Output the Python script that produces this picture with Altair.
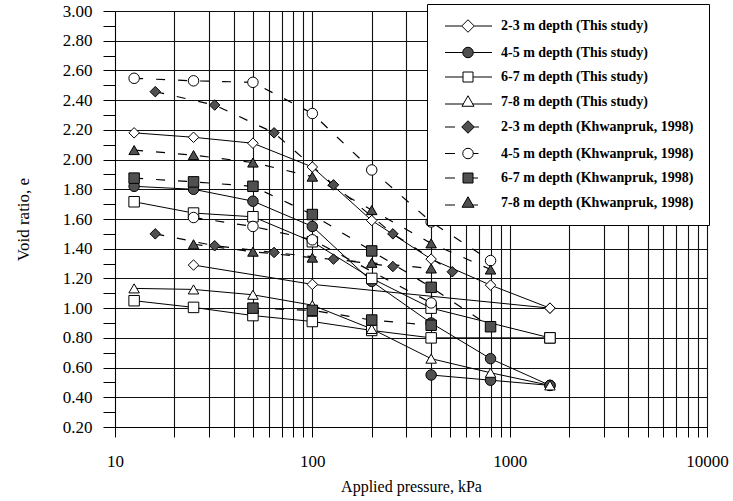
import altair as alt
import pandas as pd

labels = [
    "2-3 m depth (This study)",
    "4-5 m depth (This study)",
    "6-7 m depth (This study)",
    "7-8 m depth (This study)",
    "2-3 m depth (Khwanpruk, 1998)",
    "4-5 m depth (Khwanpruk, 1998)",
    "6-7 m depth (Khwanpruk, 1998)",
    "7-8 m depth (Khwanpruk, 1998)",
]

# ---- This study (applied pressure kPa, void ratio) ----
t23a_p = [12.5, 25, 50, 100, 200, 400, 800, 1600]
t23a_e = [2.18, 2.15, 2.11, 1.95, 1.59, 1.33, 1.155, 1.00]
t23b_p = [25, 100, 1600]
t23b_e = [1.29, 1.16, 1.00]

t45a_p = [12.5, 25, 50, 100, 200, 400, 800, 1600]
t45a_e = [1.82, 1.80, 1.72, 1.55, 1.18, 0.90, 0.66, 0.48]
t45b_p = [400, 800, 1600]
t45b_e = [0.55, 0.515, 0.48]

t67a_p = [12.5, 25, 50, 100, 200, 400, 1600]
t67a_e = [1.716, 1.64, 1.615, 1.447, 1.20, 1.00, 0.80]
t67b_p = [12.5, 25, 50, 100, 200, 400, 1600]
t67b_e = [1.05, 1.005, 0.95, 0.91, 0.85, 0.80, 0.80]

t78a_p = [12.5, 25, 50, 100, 200, 400, 800, 1600]
t78a_e = [1.133, 1.126, 1.09, 1.02, 0.86, 0.66, 0.565, 0.48]

# ---- Khwanpruk, 1998 ----
k23a_p = [16, 32, 64, 128, 256, 512]
k23a_e = [2.457, 2.367, 2.18, 1.83, 1.50, 1.245]
k23b_p = [16, 32, 64, 128, 256]
k23b_e = [1.50, 1.42, 1.375, 1.33, 1.28]

k45a_p = [12.5, 25, 50, 100, 200, 400, 800]
k45a_e = [2.547, 2.53, 2.52, 2.31, 1.93, 1.58, 1.32]
k45b_p = [25, 50, 100, 400]
k45b_e = [1.61, 1.55, 1.46, 1.035]

k67a_p = [12.5, 25, 50, 100, 200, 400, 800]
k67a_e = [1.875, 1.85, 1.82, 1.63, 1.385, 1.14, 0.875]
k67b_p = [50, 100, 200, 400]
k67b_e = [1.00, 0.985, 0.92, 0.885]

k78a_p = [12.5, 25, 50, 100, 200, 400, 800]
k78a_e = [2.064, 2.03, 1.98, 1.885, 1.66, 1.436, 1.26]
k78b_p = [25, 50, 100, 200, 400]
k78b_e = [1.43, 1.38, 1.34, 1.305, 1.267]

groups = [
    (labels[0], "a", t23a_p, t23a_e), (labels[0], "b", t23b_p, t23b_e),
    (labels[1], "a", t45a_p, t45a_e), (labels[1], "b", t45b_p, t45b_e),
    (labels[2], "a", t67a_p, t67a_e), (labels[2], "b", t67b_p, t67b_e),
    (labels[3], "a", t78a_p, t78a_e),
    (labels[4], "a", k23a_p, k23a_e), (labels[4], "b", k23b_p, k23b_e),
    (labels[5], "a", k45a_p, k45a_e), (labels[5], "b", k45b_p, k45b_e),
    (labels[6], "a", k67a_p, k67a_e), (labels[6], "b", k67b_p, k67b_e),
    (labels[7], "a", k78a_p, k78a_e), (labels[7], "b", k78b_p, k78b_e),
]

rows = []
for lab, smp, ps, es in groups:
    src = "khw" if "Khwanpruk" in lab else "this"
    for p, e in zip(ps, es):
        rows.append({"series": lab, "src": src, "key": lab + "|" + smp, "p": p, "e": e})
df = pd.DataFrame(rows)

FONT = "Liberation Serif"
GREY = "#505050"

x_vals = [10, 20, 30, 40, 50, 60, 70, 80, 90,
          100, 200, 300, 400, 500, 600, 700, 800, 900,
          1000, 2000, 3000, 4000, 5000, 6000, 7000, 8000, 9000, 10000]
y_vals = [round(0.2 + 0.1 * i, 1) for i in range(29)]

x_enc = alt.X(
    "p:Q",
    scale=alt.Scale(type="log", domain=[10, 10000]),
    axis=alt.Axis(
        values=x_vals,
        title="Applied pressure, kPa",
        labelExpr="(datum.value==10||datum.value==100||datum.value==1000||datum.value==10000) ? format(datum.value,'d') : ''",
        tickSize=10, labelPadding=16, titlePadding=9,
        grid=True, gridColor="#111111", gridWidth=1.1,
        domainColor="black", tickColor="black",
        labelFont=FONT, labelFontSize=17, labelColor="black",
        titleFont=FONT, titleFontSize=16, titleFontWeight="normal", titleColor="black",
        labelFlush=False, labelOverlap=False,
    ),
)
y_enc = alt.Y(
    "e:Q",
    scale=alt.Scale(domain=[0.2, 3.0], nice=False, zero=False),
    axis=alt.Axis(
        values=y_vals,
        title="Void ratio, e",
        labelExpr="round(datum.value*10) % 2 == 0 ? format(datum.value, '.2f') : ''",
        tickSize=12, labelPadding=11, titlePadding=30,
        grid=True, gridColor="#111111", gridWidth=1.1,
        gridOpacity={"condition": {"test": "round(datum.value*10) % 2 == 0", "value": 1}, "value": 0},
        domainColor="black", tickColor="black",
        labelFont=FONT, labelFontSize=17, labelColor="black",
        titleFont=FONT, titleFontSize=17, titleFontWeight="normal", titleColor="black",
        labelOverlap=False, labelFlush=False,
    ),
)

shapes = ["diamond", "circle", "square", "triangle-up"] * 2
fills = ["white", GREY, "white", "white", GREY, "white", GREY, GREY]

lines_this = alt.Chart(df).transform_filter(alt.datum.src == "this").mark_line(
    color="black", strokeWidth=1
).encode(x=x_enc, y=y_enc, detail="key:N", order="p:Q")

lines_khw = alt.Chart(df).transform_filter(alt.datum.src == "khw").mark_line(
    color="black", strokeWidth=1.2, strokeDash=[9, 13]
).encode(x=x_enc, y=y_enc, detail="key:N", order="p:Q")

point_layers = []
for lab, shp, fc in zip(labels, shapes, fills):
    point_layers.append(
        alt.Chart(df).transform_filter(alt.datum.series == lab).mark_point(
            shape=shp, filled=True, fill=fc, stroke="black", strokeWidth=1, opacity=1, size=110
        ).encode(x=x_enc, y=y_enc)
    )

# legend symbols: marker with line stubs
m_diam = "M0,-1.25L1.25,0L0,1.25L-1.25,0Z"
m_circ = "M-1.05,0A1.05,1.05,0,1,0,1.05,0A1.05,1.05,0,1,0,-1.05,0Z"
m_sq = "M-1,-1H1V1H-1Z"
m_tri = "M0,-1.15L1.2,0.95H-1.2Z"
leg_paths = [
    "M-4.6,0H-1.25M1.25,0H4.8" + m_diam,
    "M-4.6,0H-1.05M1.05,0H4.8" + m_circ,
    "M-4.6,0H-1M1,0H4.8" + m_sq,
    "M-4.6,0.5H-0.9M0.9,0.5H4.8" + m_tri,
    "M-4.6,0H-2.6M1.25,0H2.2" + m_diam,
    "M-4.6,0H-2.6M1.05,0H2.1" + m_circ,
    "M-4.6,0H-2.6M1,0H2.0" + m_sq,
    "M-4.6,0.5H-2.6M0.9,0.5H2.0" + m_tri,
]

legend_layer = alt.Chart(df).transform_filter("false").mark_point(
    filled=True, strokeWidth=1, opacity=1, size=100
).encode(
    x=x_enc, y=y_enc,
    shape=alt.Shape(
        "series:N",
        scale=alt.Scale(domain=labels, range=leg_paths),
        legend=alt.Legend(
            title=None, orient="none", legendX=312, legendY=-7,
            fillColor="white", strokeColor="black", padding=15,
            symbolSize=100, symbolOffset=19, labelOffset=26,
            symbolStrokeColor="black", symbolStrokeWidth=1,
            labelFont=FONT, labelFontSize=14, labelFontWeight="bold",
            labelColor="black", labelLimit=400, rowPadding=9.5,
        ),
    ),
    fill=alt.Fill("series:N", scale=alt.Scale(domain=labels, range=fills)),
    stroke=alt.Stroke("series:N", scale=alt.Scale(domain=labels, range=["black"] * 8)),
)

chart = alt.layer(lines_this, lines_khw, *point_layers, legend_layer).properties(
    width=592, height=416,
    autosize=alt.AutoSizeParams(type="none"),
    padding={"left": 115, "top": 11, "right": 26, "bottom": 74},
).configure_view(stroke="black", strokeWidth=1).configure(background="white")

chart.save("out.html", embed_options={"renderer": "svg", "actions": False})
